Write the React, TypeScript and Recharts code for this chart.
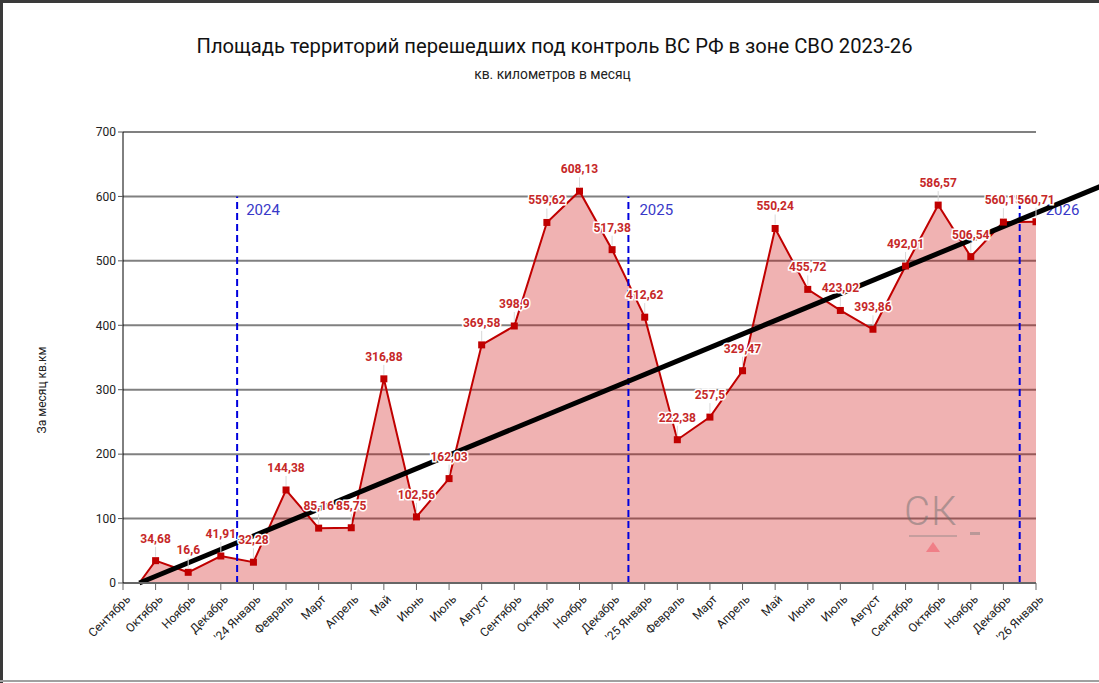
import React from "react";
import {
  ComposedChart,
  Area,
  XAxis,
  YAxis,
  CartesianGrid,
  ReferenceLine,
  LabelList,
} from "recharts";

// Month tick labels (Sep 2023 .. Jan 2026)
const monthLabels = [
  "Сентябрь", "Октябрь", "Ноябрь", "Декабрь", "'24 Январь", "Февраль", "Март", "Апрель",
  "Май", "Июнь", "Июль", "Август", "Сентябрь", "Октябрь", "Ноябрь", "Декабрь",
  "'25 Январь", "Февраль", "Март", "Апрель", "Май", "Июнь", "Июль", "Август",
  "Сентябрь", "Октябрь", "Ноябрь", "Декабрь", "'26 Январь",
];

// Position of each data point on the month axis (series starts mid-September 2023)
const pointMonths = [
  0.5, 1, 2, 3, 4, 5, 6, 7, 8, 9, 10, 11, 12, 13, 14, 15, 16, 17, 18, 19, 20, 21, 22, 23,
  24, 25, 26, 27, 28,
];

// Square kilometres per month
const areaValues = [
  0, 34.68, 16.6, 41.91, 32.28, 144.38, 85.16, 85.75, 316.88, 102.56, 162.03, 369.58,
  398.9, 559.62, 608.13, 517.38, 412.62, 222.38, 257.5, 329.47, 550.24, 455.72, 423.02,
  393.86, 492.01, 586.57, 506.54, 560.15, 560.71,
];

const yTicks = [0, 100, 200, 300, 400, 500, 600, 700];

// Year separators (between December and January)
const yearMonths = [3.5, 15.5, 27.5];
const yearLabels = ["2024", "2025", "2026"];
const yearMarkTop = 600;

// Trend line ends (month position, value)
const trendStart = { month: 0.5, value: 0 };
const trendEnd = { month: 30, value: 616 };

const data = pointMonths.map((m, i) => ({ m, v: areaValues[i] }));
const xTicks = monthLabels.map((_, i) => i);

// horizontal offsets of the year captions from their lines (px)
const yearLabelDx = [9, 11, 26];

const fmt = (v: number) => String(v).replace(".", ",");

const XTick = (props: any) => {
  const { x, y, payload } = props;
  return (
    <g transform={`translate(${x + 8},${y + 8})`}>
      <text
        x={0}
        y={0}
        textAnchor="end"
        transform="rotate(-45)"
        fontSize={12}
        fill="#222"
        fontFamily="Roboto"
      >
        {monthLabels[payload.value]}
      </text>
    </g>
  );
};

const Dot = (props: any) => {
  const { cx, cy, index } = props;
  if (index === 0 || cx == null) return <g key={`d${index}`} />;
  return (
    <rect key={`d${index}`} x={cx - 3.5} y={cy - 3.5} width={7} height={7} fill="#c00000" />
  );
};

const ValueLabel = (props: any) => {
  const { x, y, value, index } = props;
  if (index === 0) return null;
  return (
    <g>
      <line x1={x} x2={x} y1={y - 14} y2={y - 4} stroke="#d8d8d8" strokeWidth={1} />
      <text
        x={x}
        y={y - 18}
        textAnchor="middle"
        fontSize={12}
        fontWeight="bold"
        fontFamily="Roboto"
        fill="#c62828"
        stroke="#fff"
        strokeWidth={3}
        paintOrder="stroke"
      >
        {fmt(value)}
      </text>
    </g>
  );
};

const makeYearLabel = (label: string, dx: number) => (props: any) => {
  const { viewBox } = props;
  const vb = viewBox || {};
  return (
    <text x={vb.x + dx} y={vb.y + 19} fontSize={15} fill="#3838c8" fontFamily="Roboto">
      {label}
    </text>
  );
};

export default function App() {
  return (
    <div
      style={{
        position: "fixed",
        left: 0,
        top: 0,
        width: 1099,
        height: 683,
        background: "#fff",
        overflow: "hidden",
        fontFamily: "Roboto",
      }}
    >
      <div
        style={{
          position: "absolute",
          left: 0,
          right: 0,
          top: 34,
          textAlign: "center",
          fontSize: 20.2,
          color: "#111",
          paddingLeft: 10,
        }}
      >
        Площадь территорий перешедших под контроль ВС РФ в зоне СВО 2023-26
      </div>
      <div
        style={{
          position: "absolute",
          left: 0,
          right: 0,
          top: 66,
          textAlign: "center",
          fontSize: 13.8,
          color: "#222",
          paddingLeft: 6,
        }}
      >
        кв. километров в месяц
      </div>
      <div
        style={{
          position: "absolute",
          left: 42,
          top: 390,
          transform: "translate(-50%,-50%) rotate(-90deg)",
          fontSize: 12,
          color: "#222",
          whiteSpace: "nowrap",
        }}
      >
        За месяц кв.км
      </div>
      <div style={{ position: "absolute", left: 0, top: 0 }}>
        <ComposedChart
          width={1099}
          height={683}
          data={data}
          margin={{ top: 132, right: 63, bottom: 40, left: 63 }}
        >
          <CartesianGrid
            horizontal
            vertical={false}
            stroke="#808080"
            strokeWidth={2}
          />
          <XAxis
            dataKey="m"
            type="number"
            domain={[0, 28]}
            ticks={xTicks}
            interval={0}
            allowDataOverflow
            height={60}
            tick={<XTick />}
            tickSize={7}
            stroke="#666"
            strokeWidth={2}
            tickLine={{ stroke: "#666", strokeWidth: 1 }}
          />
          <YAxis
            domain={[0, 700]}
            ticks={yTicks}
            width={60}
            tickSize={5}
            tick={{ fontSize: 12, fill: "#222", fontFamily: "Roboto" }}
            stroke="#000"
            tickLine={{ stroke: "#555" }}
          />
          <Area
            type="linear"
            dataKey="v"
            stroke="#c00000"
            strokeWidth={2}
            fill="#cc0000"
            fillOpacity={0.3}
            dot={<Dot />}
            activeDot={false}
            isAnimationActive={false}
          >
            <LabelList dataKey="v" content={<ValueLabel />} />
          </Area>
          {yearMonths.map((ym, i) => (
            <ReferenceLine
              key={yearLabels[i]}
              segment={[
                { x: ym, y: 0 },
                { x: ym, y: yearMarkTop },
              ]}
              stroke="#0000dd"
              strokeWidth={2}
              strokeDasharray="7 4"
              ifOverflow="visible"
              label={makeYearLabel(yearLabels[i], yearLabelDx[i])}
            />
          ))}
          <ReferenceLine
            segment={[
              { x: trendStart.month, y: trendStart.value },
              { x: trendEnd.month, y: trendEnd.value },
            ]}
            stroke="#000"
            strokeWidth={5}
            ifOverflow="visible"
          />
        </ComposedChart>
      </div>
      {/* watermark */}
      <div
        style={{
          position: "absolute",
          left: 904,
          top: 488,
          fontSize: 40,
          fontWeight: 300,
          color: "rgba(110,110,110,0.5)",
          letterSpacing: 1,
        }}
      >
        СК
      </div>
      <div
        style={{
          position: "absolute",
          left: 909,
          top: 535,
          width: 48,
          height: 2,
          background: "rgba(120,120,120,0.35)",
        }}
      />
      <div
        style={{
          position: "absolute",
          left: 926,
          top: 542,
          width: 0,
          height: 0,
          borderLeft: "7px solid transparent",
          borderRight: "7px solid transparent",
          borderBottom: "10px solid rgba(240,110,120,0.75)",
        }}
      />
      <div
        style={{
          position: "absolute",
          left: 970,
          top: 532,
          width: 10,
          height: 3,
          background: "rgba(120,120,120,0.45)",
        }}
      />
      {/* frame */}
      <div style={{ position: "absolute", left: 0, top: 0, width: 1099, height: 3, background: "#3a3a3a" }} />
      <div style={{ position: "absolute", left: 0, top: 0, width: 3, height: 683, background: "#3a3a3a" }} />
      <div style={{ position: "absolute", left: 0, top: 680, width: 1099, height: 2, background: "#a0a0a0" }} />
    </div>
  );
}
